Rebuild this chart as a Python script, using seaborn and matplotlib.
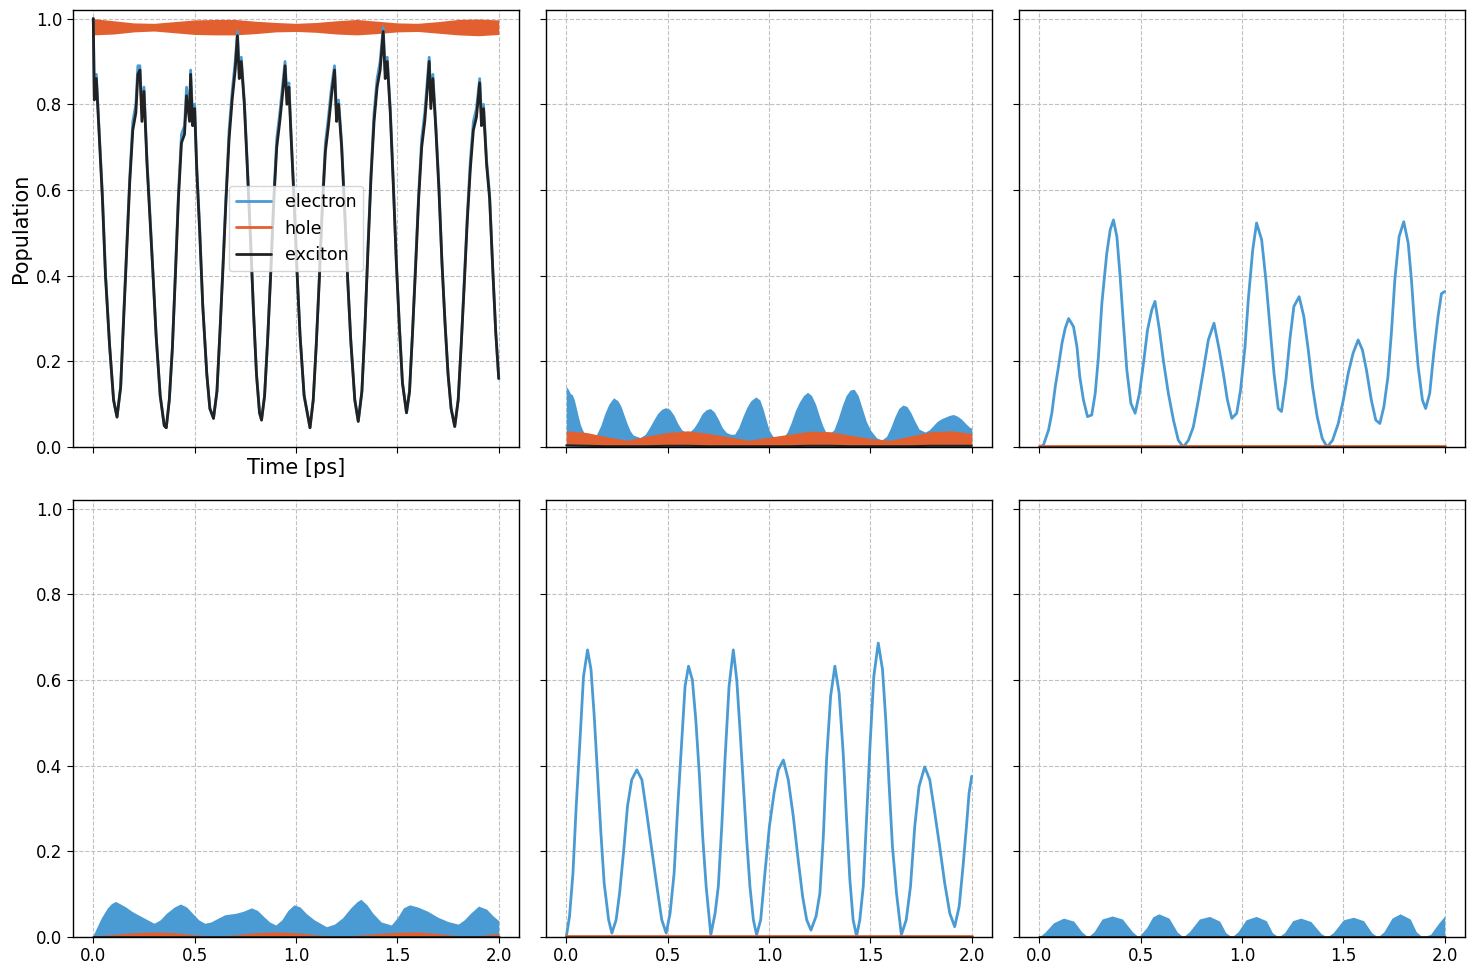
import numpy as np
import matplotlib
matplotlib.use("Agg")
import matplotlib.pyplot as plt
from matplotlib.lines import Line2D
import seaborn as sns

# colours
c_el = "#4a9bd3"
c_ho = "#e2602f"
c_ex = "#222222"

# ---- panel 1 (top-left): electron + exciton lines, hole band ----
t_p1 = [0.0, 0.005, 0.015, 0.03, 0.045, 0.06, 0.08, 0.10, 0.117, 0.135, 0.15, 0.165, 0.18, 0.195, 0.21, 0.22, 0.23, 0.24, 0.25, 0.265,
        0.28, 0.295, 0.31, 0.33, 0.35, 0.36, 0.375, 0.39, 0.405, 0.42, 0.435, 0.45, 0.46, 0.475, 0.48, 0.49, 0.50, 0.51, 0.525, 0.54,
        0.56, 0.575, 0.593, 0.61, 0.625, 0.64, 0.655, 0.67, 0.685, 0.70, 0.711, 0.72, 0.73, 0.745, 0.76, 0.775, 0.79, 0.805, 0.82, 0.83,
        0.845, 0.86, 0.875, 0.89, 0.905, 0.92, 0.935, 0.946, 0.955, 0.965, 0.975, 0.99, 1.005, 1.02, 1.04, 1.069, 1.085, 1.10, 1.115, 1.13,
        1.145, 1.16, 1.175, 1.19, 1.20, 1.21, 1.225, 1.24, 1.255, 1.27, 1.29, 1.307, 1.325, 1.34, 1.355, 1.37, 1.385, 1.40, 1.415, 1.43,
        1.44, 1.45, 1.465, 1.48, 1.495, 1.51, 1.525, 1.545, 1.56, 1.575, 1.59, 1.605, 1.62, 1.635, 1.645, 1.657, 1.665, 1.675, 1.69, 1.705,
        1.72, 1.735, 1.75, 1.765, 1.783, 1.80, 1.815, 1.83, 1.845, 1.86, 1.875, 1.89, 1.906, 1.915, 1.925, 1.94, 1.955, 1.97, 1.985, 2.0]
exciton_p1 = [1.0, 0.81, 0.86, 0.72, 0.58, 0.40, 0.24, 0.11, 0.07, 0.14, 0.30, 0.46, 0.62, 0.74, 0.78, 0.87, 0.88, 0.76, 0.83, 0.66,
              0.53, 0.40, 0.26, 0.12, 0.05, 0.045, 0.11, 0.23, 0.40, 0.58, 0.71, 0.73, 0.82, 0.76, 0.87, 0.75, 0.79, 0.65, 0.50, 0.33,
              0.17, 0.09, 0.067, 0.13, 0.27, 0.42, 0.58, 0.72, 0.81, 0.88, 0.96, 0.86, 0.90, 0.80, 0.65, 0.49, 0.32, 0.17, 0.08, 0.063,
              0.12, 0.25, 0.40, 0.57, 0.70, 0.76, 0.83, 0.89, 0.80, 0.84, 0.73, 0.58, 0.41, 0.26, 0.12, 0.045, 0.11, 0.24, 0.39, 0.56,
              0.69, 0.75, 0.82, 0.88, 0.76, 0.80, 0.70, 0.55, 0.39, 0.25, 0.11, 0.06, 0.13, 0.28, 0.46, 0.63, 0.76, 0.84, 0.88, 0.97,
              0.86, 0.90, 0.78, 0.61, 0.43, 0.28, 0.15, 0.08, 0.13, 0.27, 0.42, 0.58, 0.70, 0.76, 0.82, 0.90, 0.79, 0.86, 0.74, 0.60,
              0.43, 0.29, 0.17, 0.09, 0.048, 0.11, 0.24, 0.38, 0.53, 0.65, 0.74, 0.77, 0.85, 0.75, 0.79, 0.66, 0.58, 0.42, 0.27, 0.16]
electron_p1 = [1.0, 0.82, 0.87, 0.73, 0.59, 0.41, 0.24, 0.11, 0.07, 0.14, 0.31, 0.47, 0.63, 0.76, 0.80, 0.89, 0.89, 0.78, 0.84, 0.67,
               0.54, 0.40, 0.26, 0.12, 0.05, 0.045, 0.11, 0.23, 0.41, 0.59, 0.73, 0.75, 0.84, 0.78, 0.88, 0.77, 0.80, 0.66, 0.51, 0.33,
               0.17, 0.09, 0.067, 0.13, 0.27, 0.43, 0.59, 0.74, 0.83, 0.90, 0.97, 0.88, 0.91, 0.81, 0.66, 0.50, 0.32, 0.17, 0.08, 0.063,
               0.12, 0.25, 0.41, 0.58, 0.72, 0.78, 0.85, 0.90, 0.82, 0.85, 0.74, 0.59, 0.41, 0.26, 0.12, 0.045, 0.11, 0.24, 0.40, 0.57,
               0.71, 0.77, 0.84, 0.89, 0.78, 0.81, 0.71, 0.56, 0.39, 0.25, 0.11, 0.06, 0.13, 0.28, 0.47, 0.64, 0.78, 0.86, 0.90, 0.98,
               0.88, 0.91, 0.79, 0.62, 0.43, 0.28, 0.15, 0.08, 0.13, 0.27, 0.43, 0.59, 0.72, 0.78, 0.84, 0.91, 0.81, 0.87, 0.75, 0.61,
               0.43, 0.29, 0.17, 0.09, 0.048, 0.11, 0.24, 0.39, 0.54, 0.67, 0.76, 0.79, 0.86, 0.77, 0.80, 0.67, 0.59, 0.42, 0.27, 0.16]
t_env = [0.0, 0.1, 0.2, 0.3, 0.4, 0.5, 0.6, 0.7, 0.8, 0.9, 1.0, 1.1, 1.2, 1.3, 1.4, 1.5, 1.6, 1.7, 1.8, 1.9, 2.0]
hole_p1_hi = [1.0, 0.995, 0.99, 0.989, 0.993, 0.997, 0.998, 0.998, 0.994, 0.991, 0.989, 0.991, 0.995, 0.998, 0.994, 0.99, 0.989,
              0.993, 0.998, 0.999, 0.997]
hole_p1_lo = [0.962, 0.964, 0.969, 0.971, 0.967, 0.963, 0.962, 0.962, 0.965, 0.969, 0.97, 0.968, 0.964, 0.962, 0.965, 0.969, 0.97,
              0.966, 0.962, 0.96, 0.963]

# ---- panel 2 (top-middle): all three are fast-oscillating bands ----
t_p2_el = [0.0, 0.01, 0.02, 0.03, 0.04, 0.05, 0.06, 0.07, 0.08, 0.09, 0.11, 0.13, 0.15, 0.17, 0.19, 0.21, 0.233, 0.255, 0.27, 0.285,
           0.30, 0.315, 0.33, 0.365, 0.39, 0.41, 0.43, 0.45, 0.47, 0.49, 0.51, 0.53, 0.55, 0.57, 0.59, 0.61, 0.63, 0.65, 0.67, 0.69,
           0.71, 0.73, 0.75, 0.77, 0.79, 0.81, 0.83, 0.85, 0.87, 0.89, 0.91, 0.935, 0.955, 0.97, 0.985, 1.0, 1.015, 1.03, 1.07, 1.09,
           1.11, 1.13, 1.15, 1.17, 1.19, 1.21, 1.23, 1.25, 1.265, 1.28, 1.30, 1.32, 1.34, 1.36, 1.38, 1.40, 1.42, 1.44, 1.46, 1.48,
           1.50, 1.53, 1.555, 1.58, 1.60, 1.62, 1.64, 1.66, 1.68, 1.70, 1.72, 1.74, 1.77, 1.79, 1.81, 1.83, 1.85, 1.87, 1.89, 1.91,
           1.93, 1.95, 1.97, 1.99, 2.0]
electron_p2_hi = [0.141, 0.135, 0.125, 0.122, 0.11, 0.09, 0.07, 0.052, 0.04, 0.032, 0.025, 0.024, 0.03, 0.05, 0.078, 0.1, 0.115,
                  0.108, 0.095, 0.075, 0.055, 0.038, 0.028, 0.022, 0.03, 0.045, 0.062, 0.078, 0.088, 0.092, 0.088, 0.075, 0.055,
                  0.04, 0.035, 0.036, 0.045, 0.06, 0.078, 0.087, 0.09, 0.082, 0.065, 0.045, 0.034, 0.03, 0.03, 0.045, 0.07, 0.092,
                  0.108, 0.117, 0.11, 0.09, 0.065, 0.04, 0.028, 0.02, 0.022, 0.035, 0.058, 0.085, 0.105, 0.12, 0.128, 0.12, 0.1,
                  0.07, 0.05, 0.035, 0.032, 0.04, 0.065, 0.095, 0.12, 0.133, 0.135, 0.12, 0.09, 0.06, 0.04, 0.022, 0.016, 0.025,
                  0.045, 0.07, 0.09, 0.098, 0.095, 0.08, 0.06, 0.042, 0.035, 0.04, 0.05, 0.06, 0.066, 0.07, 0.074, 0.076, 0.072,
                  0.065, 0.055, 0.046, 0.044]
hole_p2_hi = [0.038, 0.034, 0.024, 0.016, 0.026, 0.034, 0.038, 0.032, 0.024, 0.016, 0.023, 0.03, 0.037, 0.036, 0.028, 0.02, 0.016,
              0.026, 0.036, 0.038, 0.032]
hole_p2_lo = [0.005, 0.004, 0.004, 0.003, 0.004, 0.005, 0.005, 0.004, 0.004, 0.003, 0.004, 0.004, 0.005, 0.005, 0.004, 0.003, 0.003,
              0.004, 0.005, 0.005, 0.005]
exciton_p2 = [0.004, 0.003, 0.002, 0.002, 0.002, 0.003, 0.003, 0.002, 0.002, 0.002, 0.002, 0.002, 0.003, 0.003, 0.002, 0.002, 0.002,
              0.002, 0.003, 0.003, 0.003]

# ---- panel 3 (top-right): electron line, hole/exciton ~0 ----
t_p3 = [0.0, 0.021, 0.046, 0.062, 0.079, 0.095, 0.112, 0.128, 0.145, 0.169, 0.186, 0.2, 0.218, 0.238, 0.259, 0.276, 0.292, 0.309,
        0.333, 0.35, 0.366, 0.383, 0.399, 0.415, 0.432, 0.452, 0.473, 0.494, 0.514, 0.534, 0.555, 0.571, 0.593, 0.612, 0.637, 0.662,
        0.686, 0.711, 0.736, 0.76, 0.785, 0.81, 0.834, 0.862, 0.888, 0.908, 0.928, 0.95, 0.974, 0.993, 1.015, 1.031, 1.053, 1.072,
        1.097, 1.118, 1.138, 1.158, 1.179, 1.195, 1.217, 1.236, 1.256, 1.282, 1.305, 1.327, 1.348, 1.371, 1.396, 1.42, 1.447, 1.475,
        1.5, 1.524, 1.548, 1.573, 1.594, 1.614, 1.638, 1.66, 1.68, 1.7, 1.72, 1.737, 1.754, 1.775, 1.798, 1.82, 1.836, 1.852, 1.869,
        1.89, 1.906, 1.926, 1.946, 1.967, 1.984, 2.0]
electron_p3 = [0.0, 0.005, 0.04, 0.079, 0.141, 0.188, 0.242, 0.277, 0.30, 0.281, 0.234, 0.164, 0.11, 0.071, 0.075, 0.125, 0.211,
               0.336, 0.452, 0.507, 0.53, 0.491, 0.398, 0.289, 0.18, 0.102, 0.079, 0.125, 0.195, 0.273, 0.32, 0.34, 0.273, 0.203,
               0.125, 0.063, 0.016, 0.0, 0.016, 0.047, 0.11, 0.18, 0.25, 0.289, 0.227, 0.172, 0.11, 0.067, 0.079, 0.133, 0.234,
               0.343, 0.46, 0.523, 0.484, 0.39, 0.281, 0.172, 0.09, 0.083, 0.157, 0.25, 0.328, 0.351, 0.305, 0.227, 0.141, 0.071,
               0.02, 0.0, 0.016, 0.055, 0.11, 0.172, 0.219, 0.25, 0.227, 0.18, 0.11, 0.063, 0.055, 0.094, 0.164, 0.266, 0.39,
               0.491, 0.526, 0.476, 0.39, 0.281, 0.188, 0.11, 0.09, 0.125, 0.219, 0.304, 0.358, 0.363]
t_flat = [0.0, 0.5, 1.0, 1.5, 2.0]
hole_flat = [0.002, 0.002, 0.002, 0.002, 0.002]
exciton_flat = [0.001, 0.001, 0.001, 0.001, 0.001]

# ---- panel 4 (bottom-left): electron band, small hole band ----
t_p4_el = [0.0, 0.02, 0.04, 0.07, 0.09, 0.11, 0.13, 0.16, 0.19, 0.22, 0.26, 0.30, 0.33, 0.36, 0.40, 0.43, 0.46, 0.49, 0.52, 0.55,
           0.58, 0.62, 0.65, 0.70, 0.74, 0.78, 0.81, 0.84, 0.87, 0.90, 0.93, 0.96, 0.99, 1.02, 1.05, 1.09, 1.15, 1.19, 1.23, 1.27,
           1.30, 1.32, 1.35, 1.38, 1.42, 1.47, 1.50, 1.53, 1.56, 1.60, 1.65, 1.70, 1.75, 1.80, 1.83, 1.86, 1.90, 1.94, 1.97, 2.0]
electron_p4_hi = [0.005, 0.025, 0.045, 0.068, 0.078, 0.083, 0.078, 0.07, 0.06, 0.052, 0.042, 0.032, 0.04, 0.055, 0.07, 0.077,
                  0.07, 0.055, 0.04, 0.032, 0.035, 0.045, 0.052, 0.055, 0.06, 0.068, 0.062, 0.048, 0.035, 0.028, 0.04, 0.062, 0.075,
                  0.07, 0.055, 0.04, 0.024, 0.03, 0.045, 0.068, 0.082, 0.088, 0.075, 0.055, 0.035, 0.028, 0.045, 0.068, 0.075,
                  0.07, 0.06, 0.046, 0.036, 0.03, 0.04, 0.055, 0.072, 0.065, 0.05, 0.038]
hole_p4_hi = [0.002, 0.006, 0.01, 0.012, 0.01, 0.005, 0.002, 0.005, 0.01, 0.012, 0.01, 0.005, 0.002, 0.004, 0.008, 0.011, 0.012,
              0.008, 0.003, 0.003, 0.008]

# ---- panel 5 (bottom-middle): electron line ----
t_p5 = [0.0, 0.016, 0.033, 0.049, 0.066, 0.085, 0.105, 0.122, 0.138, 0.154, 0.171, 0.187, 0.209, 0.225, 0.246, 0.263, 0.282,
        0.302, 0.323, 0.348, 0.373, 0.397, 0.422, 0.447, 0.471, 0.493, 0.512, 0.532, 0.55, 0.57, 0.586, 0.603, 0.622, 0.639, 0.657,
        0.673, 0.69, 0.713, 0.734, 0.75, 0.767, 0.783, 0.803, 0.824, 0.841, 0.857, 0.874, 0.89, 0.906, 0.923, 0.939, 0.959, 0.98,
        1.002, 1.025, 1.046, 1.071, 1.095, 1.12, 1.144, 1.166, 1.186, 1.207, 1.232, 1.251, 1.268, 1.284, 1.304, 1.325, 1.346, 1.366,
        1.383, 1.399, 1.415, 1.432, 1.448, 1.465, 1.481, 1.498, 1.517, 1.539, 1.56, 1.576, 1.593, 1.609, 1.629, 1.653, 1.677, 1.698,
        1.719, 1.74, 1.768, 1.793, 1.818, 1.842, 1.867, 1.892, 1.916, 1.938, 1.957, 1.974, 1.987, 2.0]
electron_p5 = [0.0, 0.048, 0.149, 0.305, 0.445, 0.608, 0.67, 0.624, 0.515, 0.382, 0.242, 0.125, 0.04, 0.009, 0.04, 0.102, 0.195,
               0.305, 0.367, 0.39, 0.367, 0.289, 0.203, 0.118, 0.04, 0.009, 0.055, 0.149, 0.305, 0.46, 0.585, 0.632, 0.6, 0.507,
               0.375, 0.234, 0.118, 0.005, 0.055, 0.118, 0.258, 0.414, 0.585, 0.67, 0.6, 0.484, 0.351, 0.227, 0.118, 0.04, 0.005,
               0.04, 0.149, 0.258, 0.336, 0.39, 0.413, 0.367, 0.281, 0.18, 0.094, 0.04, 0.016, 0.048, 0.102, 0.234, 0.414, 0.562,
               0.632, 0.569, 0.429, 0.273, 0.133, 0.04, 0.002, 0.04, 0.118, 0.273, 0.444, 0.608, 0.686, 0.624, 0.507, 0.351, 0.211,
               0.102, 0.005, 0.04, 0.118, 0.258, 0.351, 0.397, 0.367, 0.289, 0.211, 0.125, 0.055, 0.024, 0.071, 0.164, 0.258,
               0.336, 0.375]

# ---- panel 6 (bottom-right): small electron band ----
t_p6_el = [0.0, 0.03, 0.07, 0.12, 0.17, 0.21, 0.24, 0.27, 0.31, 0.36, 0.41, 0.46, 0.49, 0.53, 0.56, 0.59, 0.64, 0.68, 0.71, 0.74,
           0.79, 0.84, 0.89, 0.92, 0.95, 0.98, 1.02, 1.07, 1.12, 1.15, 1.18, 1.21, 1.25, 1.29, 1.34, 1.39, 1.42, 1.45, 1.5, 1.55,
           1.6, 1.64, 1.67, 1.70, 1.74, 1.78, 1.83, 1.86, 1.89, 1.93, 1.97, 2.0]
electron_p6_hi = [0.0, 0.012, 0.033, 0.044, 0.037, 0.012, 0.0, 0.012, 0.042, 0.049, 0.042, 0.012, 0.0, 0.022, 0.047, 0.054, 0.044,
                  0.012, 0.0, 0.012, 0.042, 0.048, 0.037, 0.01, 0.0, 0.012, 0.04, 0.048, 0.038, 0.01, 0.0, 0.01, 0.038, 0.044, 0.036,
                  0.008, 0.0, 0.01, 0.04, 0.046, 0.038, 0.01, 0.0, 0.012, 0.044, 0.054, 0.042, 0.012, 0.0, 0.006, 0.032, 0.049]

sns.set_style("ticks")
plt.rcParams["font.family"] = ["DejaVu Sans"]
plt.rcParams["text.color"] = "black"
plt.rcParams["axes.labelcolor"] = "black"
plt.rcParams["xtick.color"] = "black"
plt.rcParams["ytick.color"] = "black"

fig, axes = plt.subplots(2, 3, figsize=(14.75, 9.75), sharex=True, sharey=True)
fig.subplots_adjust(left=0.0495, right=0.9932, top=0.9897, bottom=0.039, wspace=0.0605, hspace=0.121)

lw = 2.0

# top-left
ax = axes[0, 0]
sns.lineplot(x=t_p1, y=electron_p1, ax=ax, color=c_el, lw=lw, legend=False)
ax.fill_between(t_env, hole_p1_lo, hole_p1_hi, color=c_ho, lw=0)
sns.lineplot(x=t_p1, y=exciton_p1, ax=ax, color=c_ex, lw=lw, legend=False)

# top-middle
ax = axes[0, 1]
ax.fill_between(t_p2_el, 0, electron_p2_hi, color=c_el, lw=0)
ax.fill_between(t_env, hole_p2_lo, hole_p2_hi, color=c_ho, lw=0)
sns.lineplot(x=t_env, y=exciton_p2, ax=ax, color=c_ex, lw=1.5, legend=False)

# top-right
ax = axes[0, 2]
sns.lineplot(x=t_p3, y=electron_p3, ax=ax, color=c_el, lw=lw, legend=False)
sns.lineplot(x=t_flat, y=hole_flat, ax=ax, color=c_ho, lw=lw, legend=False)
sns.lineplot(x=t_flat, y=exciton_flat, ax=ax, color=c_ex, lw=lw, alpha=0.6, legend=False)

# bottom-left
ax = axes[1, 0]
ax.fill_between(t_p4_el, 0, electron_p4_hi, color=c_el, lw=0)
ax.fill_between(t_env, 0, hole_p4_hi, color=c_ho, lw=0)
sns.lineplot(x=t_flat, y=exciton_flat, ax=ax, color=c_ex, lw=lw, legend=False)

# bottom-middle
ax = axes[1, 1]
sns.lineplot(x=t_p5, y=electron_p5, ax=ax, color=c_el, lw=lw, legend=False)
sns.lineplot(x=t_flat, y=hole_flat, ax=ax, color=c_ho, lw=lw, legend=False)
sns.lineplot(x=t_flat, y=exciton_flat, ax=ax, color=c_ex, lw=lw, alpha=0.6, legend=False)

# bottom-right
ax = axes[1, 2]
ax.fill_between(t_p6_el, 0, electron_p6_hi, color=c_el, lw=0)
sns.lineplot(x=t_flat, y=exciton_flat, ax=ax, color=c_ex, lw=lw, legend=False)

for ax in axes.flat:
    ax.set_xlim(-0.1, 2.1)
    ax.set_ylim(0, 1.02)
    ax.set_xticks([0.0, 0.5, 1.0, 1.5, 2.0])
    ax.set_yticks([0.0, 0.2, 0.4, 0.6, 0.8, 1.0])
    ax.grid(True, linestyle="--", color="#bbbbbb", lw=0.8, alpha=0.9)
    ax.tick_params(labelsize=12, length=4, color="black", labelcolor="black")
    ax.set_xlabel("")
    ax.set_ylabel("")
    for s in ax.spines.values():
        s.set_linewidth(1.0)
        s.set_color("black")

axes[0, 0].set_xlabel("Time [ps]", fontsize=15)
axes[0, 0].xaxis.label.set_visible(True)
axes[0, 0].set_ylabel("Population", fontsize=15)

handles = [Line2D([], [], color=c_el, lw=lw), Line2D([], [], color=c_ho, lw=lw), Line2D([], [], color=c_ex, lw=lw)]
axes[0, 0].legend(handles, ["electron", "hole", "exciton"], loc="center", fontsize=12.5)

fig.savefig("out.png", dpi=100)
